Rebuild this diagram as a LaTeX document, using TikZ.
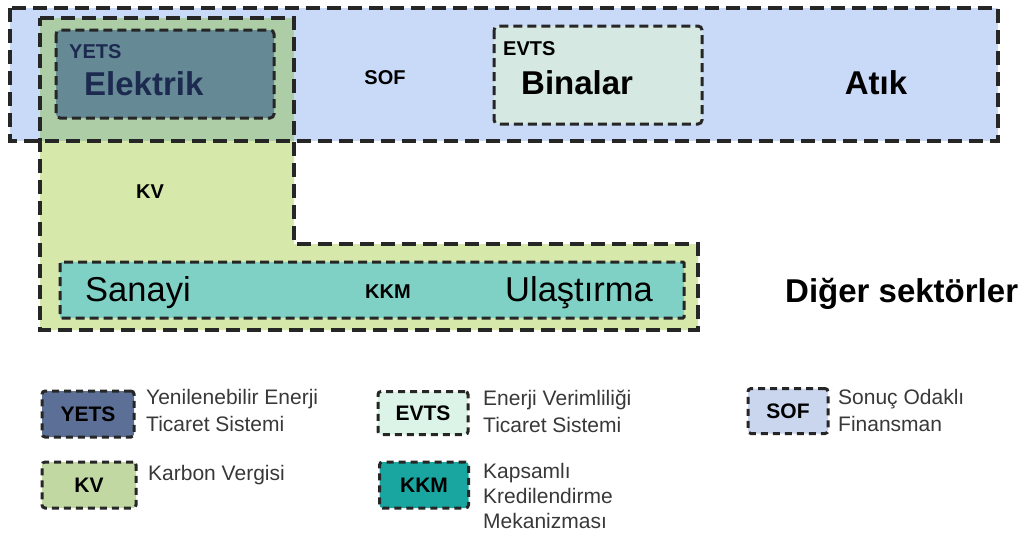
\documentclass[tikz,border=0pt]{standalone}
\usepackage{fontspec}
\setmainfont{Liberation Sans}

\definecolor{sofblue}{RGB}{201,218,248}
\definecolor{kvgreen}{RGB}{214,232,170}
\definecolor{kvsof}{RGB}{172,205,166}
\definecolor{yetsgrey}{RGB}{101,137,149}
\definecolor{yetsnavy}{RGB}{28,42,80}
\definecolor{evtsmint}{RGB}{213,232,226}
\definecolor{kkmteal}{RGB}{127,209,197}
\definecolor{keyyets}{RGB}{92,111,150}
\definecolor{keyevts}{RGB}{220,244,231}
\definecolor{keysof}{RGB}{201,214,238}
\definecolor{keykv}{RGB}{193,216,163}
\definecolor{keykkm}{RGB}{26,166,160}

\begin{document}
\begin{tikzpicture}[x=1pt, y=-1pt,
    zone/.style={draw=black!85, line width=3.1pt, dash pattern=on 14pt off 7pt},
    subzone/.style={draw=black!85, line width=3pt, dash pattern=on 9pt off 5pt, rounded corners=4pt},
    keybox/.style={draw=black!85, line width=3pt, dash pattern=on 7pt off 5pt, rounded corners=3pt,
      inner sep=0pt, font=\fontsize{21}{24}\selectfont\bfseries},
    big/.style={inner sep=0pt, anchor=base west, font=\fontsize{33}{38}\selectfont\bfseries},
    plain/.style={inner sep=0pt, anchor=base west, font=\fontsize{34.5}{38}\selectfont},
    tag/.style={inner sep=0pt, anchor=base west, font=\fontsize{20}{22}\selectfont\bfseries},
    keytext/.style={inner sep=0pt, anchor=north west, align=left, text=black!78,
      font=\fontsize{21}{27}\selectfont}]

  \useasboundingbox (0,0) rectangle (1024,538);

  % SOF and KV zones
  \fill[sofblue] (10,8) rectangle (998,141);
  \fill[kvgreen] (40,18) -- (294,18) -- (294,244) -- (698,244) -- (698,330) -- (40,330) -- cycle;
  \fill[kvsof] (40,18) rectangle (294,141);
  \draw[zone] (10,8) rectangle (998,141);
  \draw[zone] (40,18) -- (294,18) -- (294,244) -- (698,244) -- (698,330) -- (40,330) -- cycle;

  % inner sectors
  \draw[subzone, fill=yetsgrey] (56,30) rectangle (274,118);
  \draw[subzone, fill=evtsmint] (494,26) rectangle (702,124);
  \draw[subzone, rounded corners=1pt, fill=kkmteal] (60,262) rectangle (684,318);

  \node[tag, text=yetsnavy] (yets) at (69,58) {YETS};
  \node[big, text=yetsnavy] (elektrik) at (84,95) {Elektrik};
  \node[tag] (evts) at (503,55) {EVTS};
  \node[big] (binalar) at (521,94) {Binalar};
  \node[tag, anchor=base] (sof) at (385,84) {SOF};
  \node[big, anchor=base] (atik) at (876,94) {Atık};
  \node[tag, anchor=base] (kv) at (150,198) {KV};
  \node[plain] (sanayi) at (85,301) {Sanayi};
  \node[tag, anchor=base] (kkm) at (388,298) {KKM};
  \node[plain] (ulastirma) at (505,301) {Ulaştırma};
  \node[big] (diger) at (785,302) {Diğer sektörler};

  % legend
  \node[keybox, fill=keyyets, minimum width=92pt, minimum height=46pt] (kyets) at (88,414) {YETS};
  \node[keybox, fill=keyevts, minimum width=90pt, minimum height=43pt] (kevts) at (423,413) {EVTS};
  \node[keybox, fill=keysof, minimum width=80pt, minimum height=45pt] (ksof) at (788,411) {SOF};
  \node[keybox, fill=keykv, minimum width=94pt, minimum height=46pt] (kkv) at (89,485) {KV};
  \node[keybox, fill=keykkm, minimum width=89pt, minimum height=46pt] (kkkm) at (424,485) {KKM};

  \node[keytext] (tyets) at (146,389) {Yenilenebilir Enerji\\Ticaret Sistemi};
  \node[keytext] (tevts) at (483,390) {Enerji Verimliliği\\Ticaret Sistemi};
  \node[keytext] (tsof) at (838,389) {Sonuç Odaklı\\Finansman};
  \node[keytext] (tkv) at (148,465) {Karbon Vergisi};
  \node[keytext, font=\fontsize{21}{25}\selectfont] (tkkm) at (483,463) {Kapsamlı\\Kredilendirme\\Mekanizması};
\end{tikzpicture}
\end{document}
